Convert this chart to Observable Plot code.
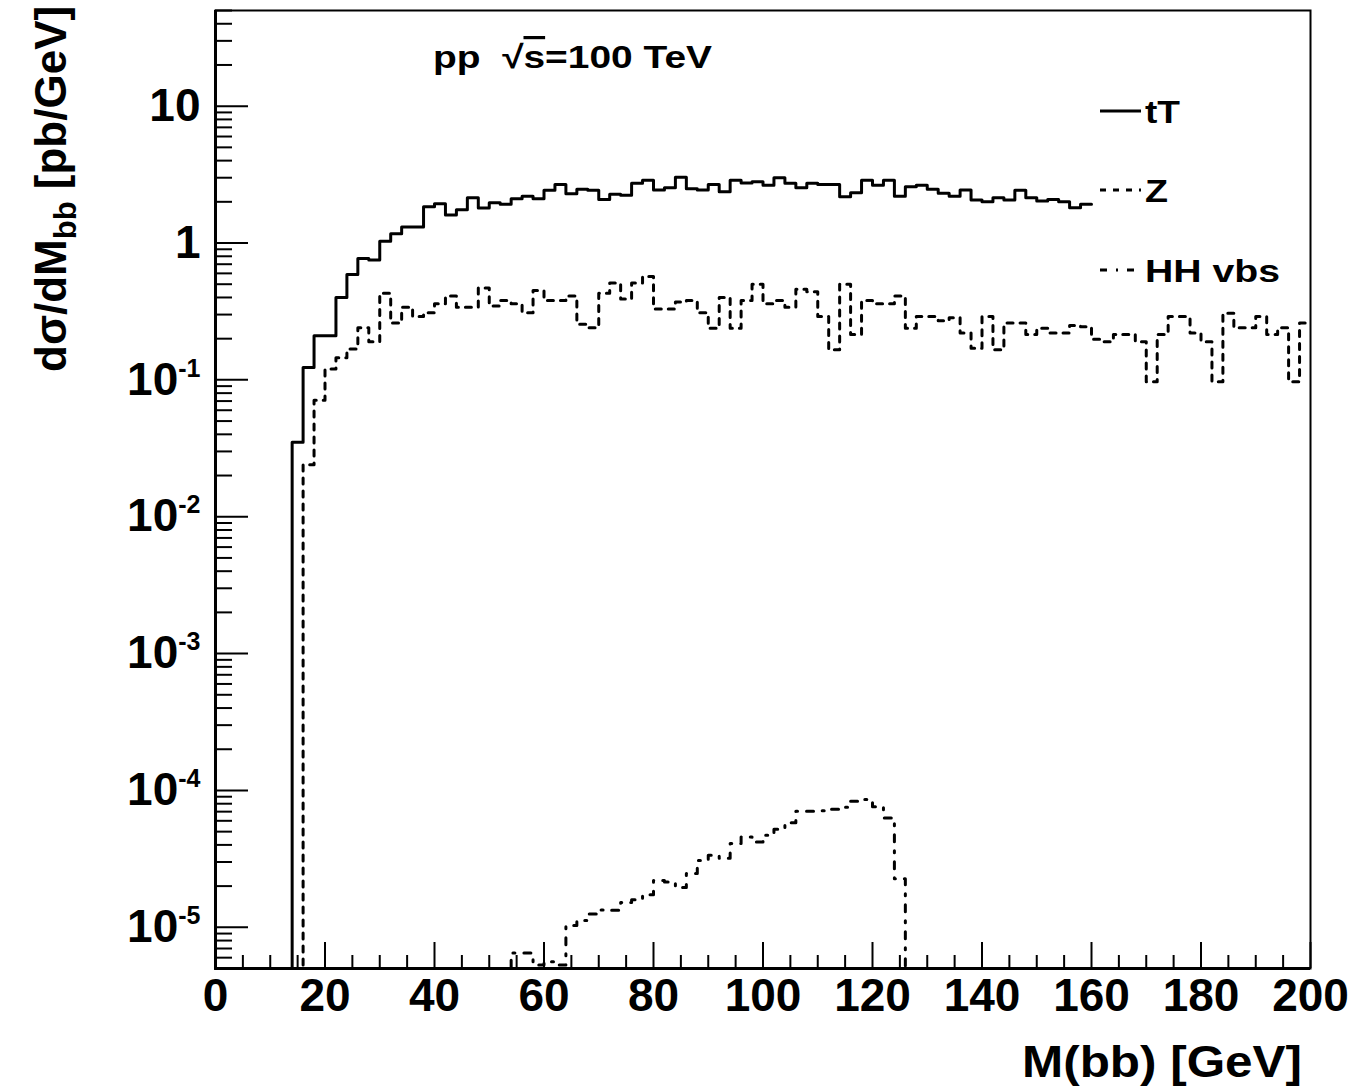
<!DOCTYPE html>
<html><head><meta charset="utf-8">
<script src="https://cdn.jsdelivr.net/npm/d3@7"></script>
<script src="https://cdn.jsdelivr.net/npm/@observablehq/plot@0.6"></script>
<style>body{margin:0;background:#fff;} svg{display:block;}</style>
</head><body><div id="chart"></div>
<script>
// ---- data (bin low edges, 2 GeV bins) ----
const massLow = [0,2,4,6,8,10,12,14,16,18,20,22,24,26,28,30,32,34,36,38,40,42,44,46,48,50,52,54,56,58,
60,62,64,66,68,70,72,74,76,78,80,82,84,86,88,90,92,94,96,98,100,102,104,106,108,110,112,114,116,118,
120,122,124,126,128,130,132,134,136,138,140,142,144,146,148,150,152,154,156,158,160,162,164,166,168,170,172,174,176,178,
180,182,184,186,188,190,192,194,196,198];
const binWidth = 2;

// tT (visible up to 160 GeV; the rest is hidden behind the legend)
const ttValues = [0,0,0,0,0,0,0,0.035,0.123,0.21,
0.21,0.40,0.59,0.77,0.75,1.03,1.17,1.31,1.31,1.84,
1.94,1.60,1.75,2.14,1.80,1.97,1.92,2.11,2.20,2.11,
2.43,2.68,2.29,2.47,2.43,2.08,2.27,2.23,2.73,2.87,
2.44,2.53,3.03,2.49,2.44,2.68,2.37,2.88,2.75,2.80,
2.64,3.00,2.73,2.53,2.73,2.68,2.68,2.18,2.33,2.87,
2.64,2.88,2.20,2.58,2.64,2.47,2.31,2.20,2.44,2.06,
2.00,2.14,2.06,2.43,2.14,2.03,2.08,2.00,1.81,1.92];

const zValues = [0,0,0,0,0,0,0,0,0.024,0.071,
0.12,0.145,0.168,0.24,0.19,0.43,0.26,0.34,0.29,0.31,
0.36,0.41,0.34,0.34,0.47,0.347,0.38,0.36,0.31,0.45,
0.38,0.38,0.41,0.255,0.24,0.43,0.51,0.39,0.51,0.57,
0.33,0.33,0.37,0.38,0.31,0.238,0.40,0.238,0.38,0.50,
0.36,0.38,0.34,0.46,0.44,0.29,0.166,0.50,0.215,0.38,
0.36,0.36,0.41,0.238,0.29,0.29,0.27,0.285,0.22,0.17,
0.29,0.166,0.26,0.26,0.215,0.238,0.22,0.22,0.25,0.244,
0.198,0.19,0.215,0.215,0.19,0.097,0.215,0.29,0.29,0.22,
0.19,0.097,0.307,0.24,0.24,0.29,0.215,0.24,0.097,0.26];

const hhValues = [0,0,0,0,0,0,0,0,0,0,
0,0,0,0,0,0,0,0,0,0,
0,0,0,0,0,0,0,6.5e-6,6.5e-6,5.3e-6,
5.6e-6,5.3e-6,1.03e-5,1.12e-5,1.25e-5,1.34e-5,1.33e-5,1.52e-5,1.59e-5,1.73e-5,
2.2e-5,2.14e-5,1.95e-5,2.47e-5,3.08e-5,3.36e-5,3.2e-5,4.09e-5,4.56e-5,4.2e-5,
4.7e-5,5.2e-5,5.8e-5,7.06e-5,7.06e-5,7.1e-5,7.3e-5,7.55e-5,8.35e-5,8.6e-5,
7.6e-5,6.3e-5,2.26e-5,0,0,0,0,0,0,0,
0,0,0,0,0,0,0,0,0,0,
0,0,0,0,0,0,0,0,0,0,
0,0,0,0,0,0,0,0,0,0];

const seriesNames = ["tT", "Z", "HH vbs"];
const seriesDash = [null, "6,7", "7,9,2,9"];
const xTicks = [0,20,40,60,80,100,120,140,160,180,200];
const yTicks = [1e-5,1e-4,1e-3,1e-2,1e-1,1,10];
const yTickLabels = ["10^-5","10^-4","10^-3","10^-2","10^-1","1","10"];
const xDomain = [0, 200];
const yDomain = [5e-6, 50];
const titleText = ["pp  \u221A", "s", "=100 TeV"];
const xTitle = "M(bb) [GeV]";

// ---- layout ----
const W = 1357, H = 1092;
const mL = 215, mR = 47, mT = 10, mB = 124;
const plotW = W - mL - mR, plotH = H - mT - mB;
const FONT = "'Liberation Sans', Arial, Helvetica, sans-serif";

function histRows(name, values) {
  const rows = values.map((v, i) => ({series: name, x: massLow[i], y: v > 0 ? v : yDomain[0]}));
  const last = rows[rows.length - 1];
  rows.push({series: name, x: last.x + binWidth, y: last.y});
  return rows;
}
const ttRows = histRows("tT", ttValues);
const zRows = histRows("Z", zValues);
const hhRows = histRows("HH vbs", hhValues);

const xMinor = d3.range(0, 201, 5).filter(d => d % 20 !== 0);
const yMinor = d3.scaleLog().domain(yDomain).ticks().filter(d => {
  const l = Math.log10(d); return Math.abs(l - Math.round(l)) > 1e-6;
});

const chart = Plot.plot({
  width: W, height: H,
  marginLeft: mL, marginRight: mR, marginTop: mT, marginBottom: mB,
  style: {fontFamily: FONT, fontWeight: "bold", color: "black", background: "white"},
  x: {domain: xDomain},
  y: {type: "log", domain: yDomain},
  marks: [
    Plot.line(ttRows, {x: "x", y: "y", curve: "step-after", stroke: "black", strokeWidth: 3}),
    Plot.line(zRows, {x: "x", y: "y", curve: "step-after", stroke: "black", strokeWidth: 3, strokeDasharray: seriesDash[1]}),
    Plot.line(hhRows, {x: "x", y: "y", curve: "step-after", stroke: "black", strokeWidth: 3, strokeDasharray: seriesDash[2]}),
    Plot.tickX(xTicks, {x: d => d, insetTop: plotH - 26, stroke: "black", strokeWidth: 2}),
    Plot.tickX(xMinor, {x: d => d, insetTop: plotH - 13, stroke: "black", strokeWidth: 2}),
    Plot.tickY(yTicks, {y: d => d, insetRight: plotW - 33, stroke: "black", strokeWidth: 2}),
    Plot.tickY(yMinor, {y: d => d, insetRight: plotW - 17, stroke: "black", strokeWidth: 2}),
    Plot.frame({stroke: "black", strokeWidth: 2}),
    Plot.ruleY([yDomain[0]], {stroke: "black", strokeWidth: 3}),
    Plot.ruleX([xDomain[0]], {stroke: "black", strokeWidth: 3}),
    Plot.axisX({ticks: xTicks, tickSize: 0, tickPadding: 10, fontSize: 46, label: null}),
    Plot.axisY({ticks: yTicks, tickSize: 0, tickPadding: 15, fontSize: 46, label: null,
      tickFormat: d => yTickLabels[yTicks.indexOf(d)]})
  ]
});
document.getElementById("chart").appendChild(chart);

const svg = d3.select(chart);

// superscripts on y tick labels
svg.selectAll('g[aria-label="y-axis tick label"] text').each(function() {
  const t = this.textContent;
  if (t.includes("^")) {
    const [base, exp] = t.split("^");
    const sel = d3.select(this);
    sel.text(base);
    sel.append("tspan").attr("font-size", 25).attr("dy", -18).text(exp);
  }
});

// title
const title = svg.append("text").attr("x", 433).attr("y", 68)
  .attr("text-anchor", "start")
  .attr("font-family", FONT).attr("font-weight", "bold").attr("font-size", 32)
  .attr("textLength", 279).attr("lengthAdjust", "spacingAndGlyphs")
  .style("white-space", "pre");
title.append("tspan").text(titleText[0]);
title.append("tspan").style("text-decoration", "overline").text(titleText[1]);
title.append("tspan").text(titleText[2]);

// x-axis title
svg.append("text").attr("x", 1022).attr("y", 1077)
  .attr("text-anchor", "start")
  .attr("font-family", FONT).attr("font-weight", "bold").attr("font-size", 45)
  .attr("textLength", 280).attr("lengthAdjust", "spacingAndGlyphs")
  .text(xTitle);

// y-axis title (rotated)
const yt = svg.append("text").attr("transform", "translate(66,372) rotate(-90)")
  .attr("text-anchor", "start")
  .attr("font-family", FONT).attr("font-weight", "bold").attr("font-size", 44);
yt.append("tspan").text("d\u03C3/dM");
yt.append("tspan").attr("font-size", 31).attr("dy", 10).text("bb");
yt.append("tspan").attr("dy", -10).text(" [pb/GeV]");

// legend
const legendY = [111, 190, 270];
const legendW = [35, 23, 135];
seriesNames.forEach((name, i) => {
  const ln = svg.append("line").attr("x1", 1100).attr("x2", 1141)
    .attr("y1", legendY[i]).attr("y2", legendY[i])
    .attr("stroke", "black").attr("stroke-width", 3);
  if (seriesDash[i]) ln.attr("stroke-dasharray", seriesDash[i]);
  svg.append("text").attr("x", 1145).attr("y", legendY[i] + 12)
    .attr("text-anchor", "start")
    .attr("font-family", FONT).attr("font-weight", "bold").attr("font-size", 32)
    .attr("textLength", legendW[i]).attr("lengthAdjust", "spacingAndGlyphs")
    .text(name);
});
</script>
</body></html>
